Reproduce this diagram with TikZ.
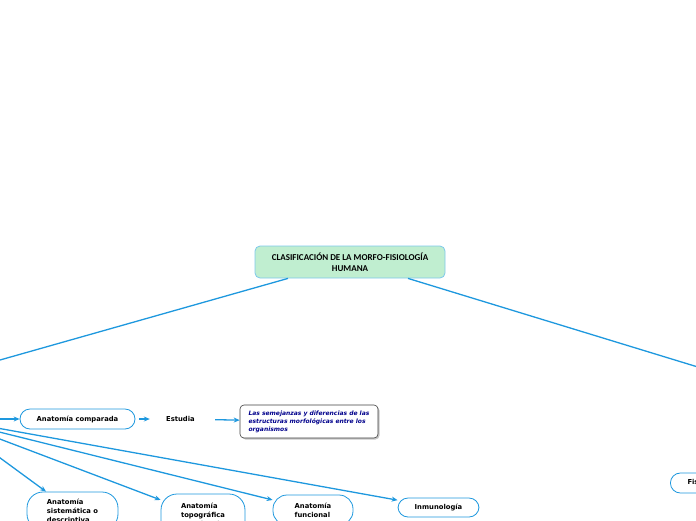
\documentclass[tikz,border=0pt]{standalone}
\usepackage{fontspec}
\setsansfont{DejaVu Sans}
\newfontfamily\titlefont{Carlito}
\usetikzlibrary{positioning,arrows.meta,shadows}
\definecolor{mapblue}{RGB}{30,152,222}
\definecolor{rootfill}{RGB}{192,238,208}
\definecolor{rootline}{RGB}{125,200,235}
\definecolor{notecol}{RGB}{0,0,140}

\begin{document}
\begin{tikzpicture}[x=1pt, y=-1pt,
	root/.style={draw=rootline, fill=rootfill, line width=0.8pt, rounded corners=5pt, align=center, font=\titlefont\bfseries\fontsize{9}{11}\selectfont, minimum width=190pt, minimum height=32pt},
	topic/.style={draw=mapblue, fill=white, line width=0.8pt, rounded corners=10pt, align=left, inner sep=0pt, font=\sffamily\bfseries\fontsize{6.8}{9}\selectfont},
	plain/.style={inner sep=0pt, font=\sffamily\bfseries\fontsize{6.8}{9}\selectfont},
	note/.style={draw=black!75, fill=white, line width=0.6pt, rounded corners=4pt, align=left, inner sep=0pt, text=notecol, font=\sffamily\bfseries\itshape\fontsize{6}{8}\selectfont, drop shadow={shadow xshift=1.5pt, shadow yshift=-1.5pt, opacity=0.45}},
	link/.style={draw=mapblue, line width=1.3pt, -{Stealth[length=6pt, width=5pt]}}]
	\useasboundingbox (0,0) rectangle (696,520);
	\clip (0,0) rectangle (696,520);
	% main title
	\node[root] (root) at (350,262) {CLASIFICACIÓN DE LA MORFO-FISIOLOGÍA\\HUMANA};
	% branches outside the view
	\coordinate (anat) at (-53,419);
	\coordinate (anatTop) at (-60,377);
	\coordinate (fisioTop) at (760,386);
	% left branch
	\node[topic, minimum width=115pt, minimum height=20pt] (comp) at (77.5,419) {Anatomía comparada};
	\node[plain, minimum width=61pt, minimum height=12pt] (estudia) at (180.5,419) {Estudia};
	\node[note, minimum width=138pt, minimum height=33pt] (semej) at (309,421.5) {Las semejanzas y diferencias de las\\estructuras morfológicas entre los\\organismos};
	\node[topic, rounded corners=16pt, minimum width=91pt, minimum height=38pt] (sist) at (72.5,511) {Anatomía\\sistemática o\\descriptiva};
	\node[topic, rounded corners=16pt, minimum width=84pt, minimum height=44pt] (topo) at (203,516) {Anatomía\\topográfica\\o regional};
	\node[topic, rounded corners=14pt, minimum width=80pt, minimum height=30pt] (func) at (313,510) {Anatomía\\funcional};
	\node[topic, minimum width=81pt, minimum height=19pt] (inmu) at (438.5,507.5) {Inmunología};
	% right branch
	\node[topic, anchor=west, minimum width=71pt, minimum height=20pt] (fisio) at (670,483) {Fisiología};
	% connectors
	\draw[link] ([xshift=-62pt]root.south) -- (anatTop);
	\draw[link] ([xshift=58pt]root.south) -- (fisioTop);
	\foreach \n in {comp,sist,topo,func,inmu}
		\draw[link] (anat) -- (\n);
	\draw[link, shorten <=4pt] (comp) -- (estudia);
	\draw[link, shorten <=4pt] (estudia) -- (semej);
\end{tikzpicture}
\end{document}
